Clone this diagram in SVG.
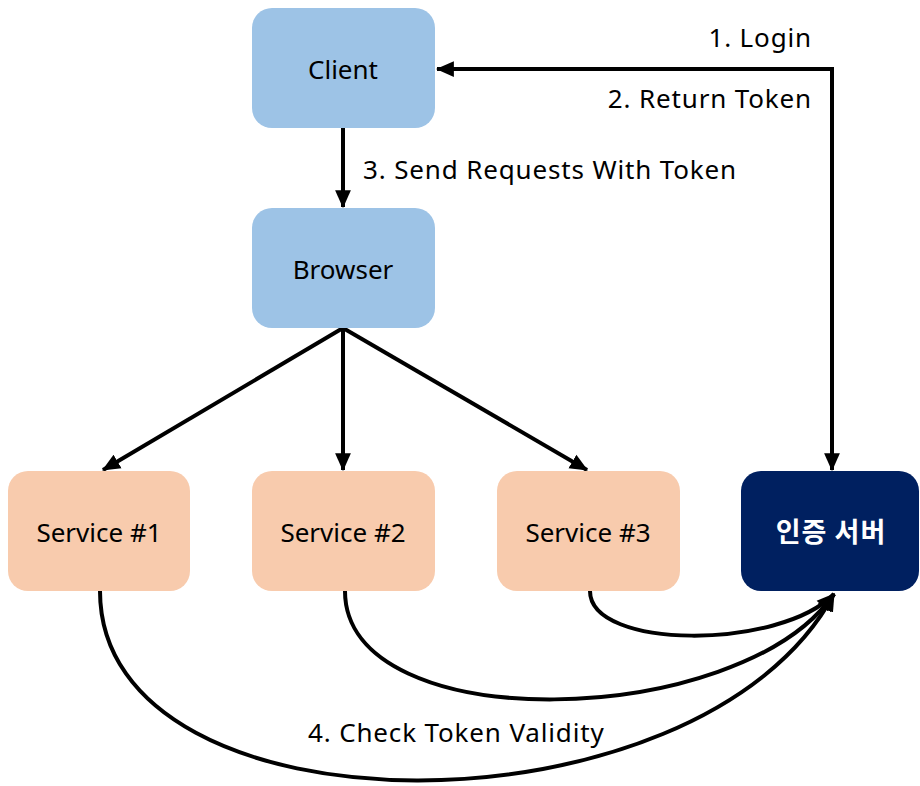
<svg xmlns="http://www.w3.org/2000/svg" width="920" height="786" viewBox="0 0 920 786">
<defs>
<style>
.blue{fill:#9DC3E6}
.orange{fill:#F8CBAD}
.navy{fill:#002060}
.lbl{font-family:"Noto Sans","Noto Sans CJK KR",sans-serif;font-size:26px;letter-spacing:0.85px;fill:#000}
.nt{font-family:"Noto Sans","Noto Sans CJK KR",sans-serif;font-size:26px;fill:#000;text-anchor:middle}
.wt{font-family:"Noto Sans CJK KR","Noto Sans",sans-serif;font-size:27px;letter-spacing:1px;font-weight:bold;fill:#fff;text-anchor:middle}
.ln{fill:none;stroke:#000;stroke-width:4;marker-end:url(#ah)}
</style>
<marker id="ah" markerUnits="userSpaceOnUse" markerWidth="18" markerHeight="18" viewBox="0 0 16 16" refX="15" refY="8" orient="auto-start-reverse">
<path d="M0,1 L16,8 L0,15 Z" fill="#000"/>
</marker>
</defs>
<g id="connectors">
<path class="ln" d="M343,128 L343,207"/>
<path class="ln" d="M832,470 L832,69 L437,69" marker-start="url(#ah)"/>
<path class="ln" d="M343,328 L103,470"/>
<path class="ln" d="M343,328 L343,470"/>
<path class="ln" d="M343,328 L587,470"/>
<path class="ln" d="M590,591 C590,650 780,650 834,594"/>
<path class="ln" d="M345,591 C345,740 740,730 834,594"/>
<path class="ln" d="M100,591 C100,843 700,843 834,594"/>
</g>
<g id="labels">
<text class="lbl" x="812" y="47" text-anchor="end">1. Login</text>
<text class="lbl" x="812" y="108" text-anchor="end">2. Return Token</text>
<text class="lbl" x="363" y="179">3. Send Requests With Token</text>
<text class="lbl" x="308" y="742">4. Check Token Validity</text>
</g>
<g id="client"><rect class="blue" x="252" y="8" width="183" height="120" rx="20"/><text class="nt" x="343" y="79">Client</text></g>
<g id="browser"><rect class="blue" x="252" y="208" width="183" height="120" rx="20"/><text class="nt" x="343" y="279">Browser</text></g>
<g id="service1"><rect class="orange" x="8" y="471" width="182" height="120" rx="20"/><text class="nt" x="99" y="542">Service #1</text></g>
<g id="service2"><rect class="orange" x="252" y="471" width="183" height="120" rx="20"/><text class="nt" x="343" y="542">Service #2</text></g>
<g id="service3"><rect class="orange" x="497" y="471" width="183" height="120" rx="20"/><text class="nt" x="588" y="542">Service #3</text></g>
<g id="auth"><rect class="navy" x="741" y="471" width="178" height="120" rx="20"/><text class="wt" x="831" y="542">인증 서버</text></g>
</svg>
